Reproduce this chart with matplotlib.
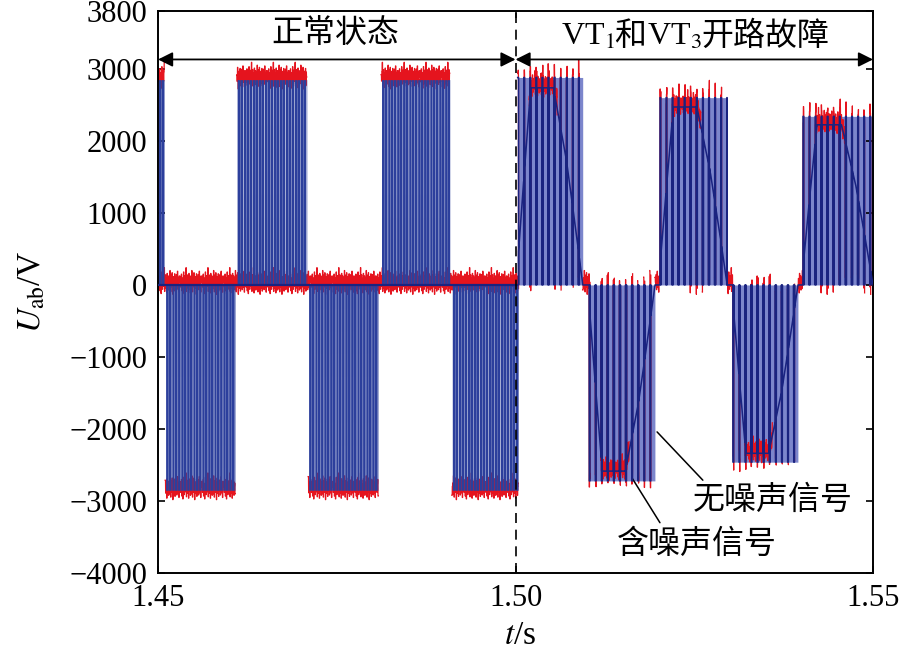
import numpy as np
import matplotlib.pyplot as plt
from matplotlib.offsetbox import TextArea, HPacker, AnnotationBbox

plt.rcParams['font.family'] = ['Liberation Serif', 'Noto Sans CJK SC']
plt.rcParams['mathtext.fontset'] = 'stix'

# healthy line voltage: half-cycle blocks (s, V)
normal_start = [1.4500, 1.4510, 1.4610, 1.4710, 1.4812, 1.4911]
normal_end = [1.4509, 1.4608, 1.4708, 1.4808, 1.4908, 1.5004]
normal_level = [2850, -2850, 2850, -2850, 2850, -2850]
normal_period = 0.00042
normal_gaps = [6e-5, 3e-5, 8e-5, 4e-5, 5e-5, 7e-5, 3e-5]

# after the VT1 / VT3 open-circuit fault
fault_start = [1.5003, 1.5103, 1.5202, 1.5304, 1.5402]
fault_end = [1.5094, 1.5195, 1.5296, 1.5395, 1.5500]
fault_level = [2880, -2720, 2600, -2460, 2340]
fault_period = 0.00085
fault_on = 0.00012
env_frac = [0.0, 0.08, 0.2, 0.55, 0.75, 0.9, 1.0]
env_gain = [0.1, 0.45, 0.95, 0.95, 0.6, 0.25, 0.0]

# noise added to the noisy signal (V), read roughly from the red band
noise_pattern = [40, 120, -30, 85, 150, -80, 20, 95, -120, 60, 180, 10, -60, 130,
                 70, -20, 110, 240, -90, 50, 140, -40, 90, 30, -110, 160, 75, -15,
                 125, -70, 55, 100, -50, 200, 15, -95, 135, 65, -25, 170, 45, -130,
                 80, 115, -45, 25, 155, -85, 105, 35, -10, 145, -65, 70, 190, -35,
                 95, 5, -100, 125, 60]
noise_step = 5e-5

navy = '#1a2380'
mid_blue = '#2c3f9c'
light_blue = '#7c86cc'
red = '#e5141e'

dt = 5e-6
t = np.arange(1.45, 1.55 + dt / 2, dt)
idx = ((t - 1.45) / noise_step).astype(int) % len(noise_pattern)
noise = np.array(noise_pattern, dtype=float)[idx]

# healthy part: filled pulse blocks
fill_norm = np.zeros_like(t)
top_norm = np.full_like(t, np.nan)
gaps = np.array(normal_gaps)
for s, e, lv in zip(normal_start, normal_end, normal_level):
    m = (t >= s) & (t < e)
    loc = t[m] - s
    k = (loc // normal_period).astype(int)
    ph = loc - k * normal_period
    fill_norm[m] = np.where(ph >= gaps[k % len(gaps)], lv, 0)
    top_norm[m] = lv

# faulty part: pulses over a decaying envelope
u = np.zeros_like(t)
light = np.zeros_like(t)
show_red = np.zeros_like(t, dtype=bool)
for s, e, lv in zip(fault_start, fault_end, fault_level):
    m = (t >= s) & (t < e)
    loc = t[m] - s
    g = np.interp(loc / (e - s), env_frac, env_gain)
    ph = loc % fault_period
    on = ph < fault_on
    guard = (ph < fault_on + 1e-5) | (ph > fault_period - 1e-5)
    u[m] = np.where(on, lv, np.where(guard, 0, g * lv))
    light[m] = lv
    show_red[m] = on | guard | (g > 0.85)

healthy = t < fault_start[0]
gap_zone = ~healthy & (light == 0)
u_fault = np.where(healthy, np.nan, u)
red_fault = np.where(show_red | gap_zone, u + noise, np.nan)

fig = plt.figure(figsize=(9, 6.58), dpi=100)
ax = fig.add_axes([0.1756, 0.129, 0.7944, 0.854])

ax.fill_between(t, 0, light, color=light_blue, lw=0, zorder=1)
ax.plot(t, top_norm + noise, color=red, lw=0.9, zorder=2)
ax.plot(t, np.where(healthy, noise, np.nan), color=red, lw=0.9, zorder=2)
ax.plot(t, red_fault, color=red, lw=0.9, zorder=2)
ax.fill_between(t, 0, fill_norm, color=mid_blue, lw=0, zorder=3)
ax.hlines(0, normal_start[0], normal_end[-1], color=navy, lw=1.6, zorder=4)
ax.plot(t, u_fault, color=navy, lw=1.1, zorder=4)

ax.axvline(1.50, color='k', lw=1.2, ls=(0, (6, 4)), zorder=5)

ax.set_xlim(1.45, 1.55)
ax.set_ylim(-4000, 3800)
ax.set_xticks([1.45, 1.50, 1.55])
ax.set_xticklabels(['1.45', '1.50', '1.55'])
ax.set_yticks([-4000, -3000, -2000, -1000, 0, 1000, 2000, 3000, 3800])
ax.tick_params(direction='in', top=True, right=True, labelsize=22, length=5,
               width=1.2, pad=8)
for sp in ax.spines.values():
    sp.set_linewidth(1.4)

ax.set_ylabel(r'$U_{\mathrm{ab}}$/V', fontsize=24)
ax.yaxis.set_label_coords(-0.155, 0.5)
ax.set_xlabel(r'$t$/s', fontsize=24)
ax.xaxis.set_label_coords(0.506, -0.085)

# state headers
arrow = dict(arrowstyle='<|-|>', color='k', lw=1.3, mutation_scale=22,
             shrinkA=0, shrinkB=0)
ax.annotate('', xy=(1.45, 3130), xytext=(1.50, 3130), arrowprops=arrow, zorder=6)
ax.annotate('', xy=(1.50, 3130), xytext=(1.55, 3130), arrowprops=arrow, zorder=6)
ax.text(1.4748, 3480, '正常状态', fontsize=23, ha='center', va='center')

pieces = ['VT$_1$', '和', 'VT$_3$', '开路故障']
boxes = [TextArea(p, textprops=dict(fontsize=23)) for p in pieces]
header = HPacker(children=boxes, pad=0, sep=0, align='baseline')
ax.add_artist(AnnotationBbox(header, (1.5251, 3450), frameon=False,
                             box_alignment=(0.5, 0.5), zorder=6))

# leader lines
line = dict(arrowstyle='-', color='k', lw=1.1, shrinkA=0, shrinkB=0)
ax.annotate('', xy=(1.5198, -2040), xytext=(1.5262, -2710), arrowprops=line)
ax.text(1.5360, -2990, '无噪声信号', fontsize=23, ha='center', va='center')
ax.annotate('', xy=(1.5163, -2680), xytext=(1.5202, -3300), arrowprops=line)
ax.text(1.5254, -3610, '含噪声信号', fontsize=23, ha='center', va='center')

plt.savefig('out.png', dpi=100)
plt.close()
